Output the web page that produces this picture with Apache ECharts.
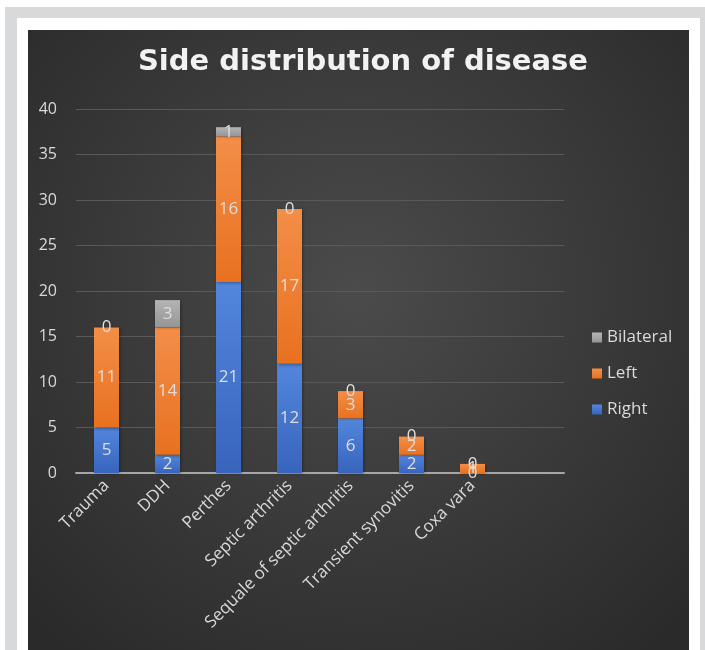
<!DOCTYPE html>
<html>
<head>
<meta charset="utf-8">
<script src="https://cdn.jsdelivr.net/npm/echarts@6/dist/echarts.min.js"></script>
<style>
	html, body { margin: 0; padding: 0; background: #ffffff; }
	#chart { width: 705px; height: 650px; }
</style>
</head>
<body>
<div id="chart"></div>
<script>
// 病种分类
var categories = ['Trauma', 'DDH', 'Perthes', 'Septic arthritis', 'Sequale of septic arthritis', 'Transient synovitis', 'Coxa vara', ''];
var rightData = [5, 2, 21, 12, 6, 2, 0];
var leftData = [11, 14, 16, 17, 3, 2, 1];
var bilateralData = [0, 3, 1, 0, 0, 0, 0];
var yTicks = [0, 40, 5];

var labelText = '#dedede';

function barGrad(top, bottom) {
	return new echarts.graphic.LinearGradient(0, 0, 0, 1, [
		{ offset: 0, color: top },
		{ offset: 1, color: bottom }
	]);
}

function seg(name, data, top, bottom) {
	return {
		name: name,
		type: 'bar',
		stack: 'side',
		barWidth: 25,
		data: data,
		itemStyle: {
			color: barGrad(top, bottom),
			shadowColor: 'rgba(0,0,0,0.35)',
			shadowBlur: 3,
			shadowOffsetX: 1,
			shadowOffsetY: 1
		},
		label: {
			show: true,
			position: 'inside',
			color: labelText,
			fontFamily: 'Open Sans',
			fontSize: 17
		}
	};
}

var chart = echarts.init(document.getElementById('chart'));

var option = {
	backgroundColor: '#ffffff',
	animation: false,
	graphic: [
		{ type: 'rect', z: -10, shape: { x: 5, y: 7, width: 700, height: 643 }, style: { fill: '#d8d9db' } },
		{ type: 'rect', z: -9, shape: { x: 17, y: 18, width: 683, height: 632 }, style: { fill: '#ffffff' } },
		{
			type: 'rect', z: -8,
			shape: { x: 28, y: 30, width: 661, height: 620 },
			style: {
				fill: new echarts.graphic.RadialGradient(0.5, 0.42, 0.75, [
					{ offset: 0, color: '#4b4b4b' },
					{ offset: 1, color: '#2a2a2a' }
				])
			}
		},
		{
			type: 'text', z: 10,
			x: 363, y: 62,
			style: {
				text: 'Side distribution of disease',
				align: 'center',
				verticalAlign: 'middle',
				fill: '#f2f2f2',
				font: 'bold 29px "DejaVu Sans"',
				shadowColor: 'rgba(0,0,0,0.6)',
				shadowBlur: 4,
				shadowOffsetX: 1,
				shadowOffsetY: 2
			}
		}
	],
	legend: {
		data: ['Bilateral', 'Left', 'Right'],
		orient: 'vertical',
		left: 587,
		top: 324,
		itemWidth: 10,
		itemHeight: 10,
		itemGap: 19,
		icon: 'rect',
		textStyle: {
			color: '#d9d9d9',
			fontFamily: 'Open Sans',
			fontSize: 17,
			lineHeight: 17
		}
	},
	grid: {
		left: 76,
		right: 141,
		top: 109,
		bottom: 177,
		containLabel: false
	},
	xAxis: {
		type: 'category',
		data: categories,
		axisLine: { lineStyle: { color: '#a6a6a6', width: 2 } },
		axisTick: { show: false },
		axisLabel: {
			color: '#d9d9d9',
			fontFamily: 'Open Sans',
			fontSize: 17,
			rotate: 45,
			interval: 0,
			margin: 10
		}
	},
	yAxis: {
		type: 'value',
		min: yTicks[0],
		max: yTicks[1],
		interval: yTicks[2],
		axisLine: { show: false },
		axisTick: { show: false },
		splitLine: { lineStyle: { color: '#595959', width: 1 } },
		axisLabel: {
			color: '#d9d9d9',
			fontFamily: 'Open Sans',
			fontSize: 16,
			margin: 19
		}
	},
	series: [
		seg('Right', rightData, '#5286dc', '#3864bc'),
		seg('Left', leftData, '#f38e48', '#e8711f'),
		seg('Bilateral', bilateralData, '#b4b4b4', '#959595')
	]
};

chart.setOption(option);
</script>
</body>
</html>
